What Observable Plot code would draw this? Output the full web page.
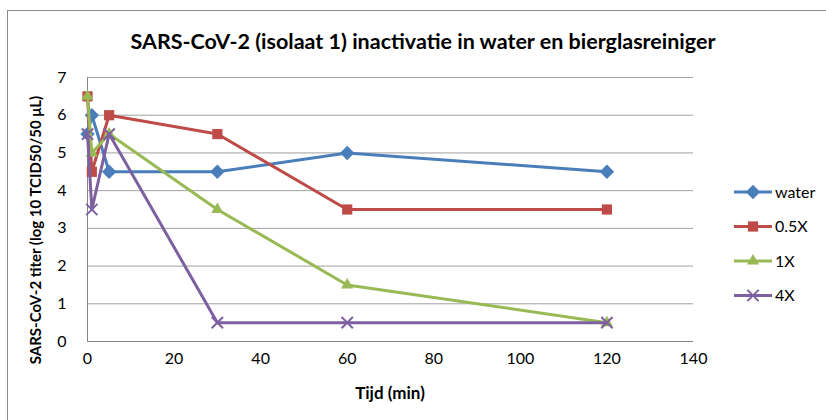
<!DOCTYPE html>
<html><head><meta charset="utf-8">
<script src="https://cdn.jsdelivr.net/npm/d3@7"></script>
<script src="https://cdn.jsdelivr.net/npm/@observablehq/plot@0.6"></script>
<style>
body{margin:0;background:#fff;font-family:Lato,"Open Sans",sans-serif;}
#wrap{position:relative;width:826px;height:420px;overflow:hidden;background:#fff;}
#frame{position:absolute;left:7px;top:10px;width:840px;height:440px;border:1px solid #8a8a8a;box-sizing:border-box;}
#chart{position:absolute;left:0;top:0;}
.t{position:absolute;font-weight:bold;color:#000;white-space:nowrap;}
#title{left:0;width:846px;top:28px;text-align:center;font-size:21.5px;}
#xtitle{left:290px;width:200px;top:382px;text-align:center;font-size:17px;}
#ytitle{left:35px;top:230px;font-size:15px;transform:translate(-50%,-50%) rotate(-90deg);}
#legend{position:absolute;left:725px;top:170px;}
</style>
</head><body>
<div id="wrap">
  <div id="frame"></div>
  <div id="chart"></div>
  <div class="t" id="title">SARS-CoV-2 (isolaat 1) inactivatie in water en bierglasreiniger</div>
  <div class="t" id="xtitle">Tijd (min)</div>
  <div class="t" id="ytitle">SARS-CoV-2 titer (log 10 TCID50/50 μL)</div>
  <div id="legend"></div>
</div>
<script>
const times = [0, 1, 5, 30, 60, 120];
const seriesNames = ["water", "0.5X", "1X", "4X"];
const water = [5.5, 6, 4.5, 4.5, 5, 4.5];
const halfX = [6.5, 4.5, 6, 5.5, 3.5, 3.5];
const oneX = [6.5, 5, 5.5, 3.5, 1.5, 0.5];
const fourX = [5.5, 3.5, 5.5, 0.5, 0.5, 0.5];
const xTicks = [0, 20, 40, 60, 80, 100, 120, 140];
const yTicks = [0, 1, 2, 3, 4, 5, 6, 7];

const seriesValues = [water, halfX, oneX, fourX];
const colors = ["#4A7EBB", "#BE4B48", "#98B954", "#7D60A0"];
const symbols = ["diamond2", "square2", "triangle2", "times"];
const d3symbols = [d3.symbolDiamond2, d3.symbolSquare2, d3.symbolTriangle2, d3.symbolTimes];
const radii = [6.5, 6.5, 5.8, 5.2];

const data = seriesNames.map((name, i) => times.map((t, j) => ({series: name, t, v: seriesValues[i][j]})));

const marks = [
  Plot.gridY(yTicks, {stroke: "#a0a0a0", strokeOpacity: 1}),
  Plot.ruleX([0], {stroke: "#868686"}),
  Plot.ruleY([0], {stroke: "#868686"}),
  Plot.axisX({ticks: xTicks, tickSize: 0, tickPadding: 11, label: null, tickFormat: "d"}),
  Plot.axisY({ticks: yTicks, tickSize: 0, tickPadding: 21, label: null, tickFormat: "d"})
];
data.forEach((d, i) => {
  marks.push(Plot.line(d, {x: "t", y: "v", stroke: colors[i], strokeWidth: 3}));
  if (symbols[i] === "times") {
    marks.push(Plot.dot(d, {x: "t", y: "v", symbol: symbols[i], r: radii[i], stroke: colors[i], strokeWidth: 2, fill: "none"}));
  } else {
    marks.push(Plot.dot(d, {x: "t", y: "v", symbol: symbols[i], r: radii[i], fill: colors[i], stroke: "none"}));
  }
});

const chart = Plot.plot({
  width: 826, height: 420,
  marginLeft: 87, marginRight: 133, marginTop: 77, marginBottom: 79,
  x: {domain: [0, 140]},
  y: {domain: [0, 7]},
  style: {fontFamily: "Lato, 'Open Sans', sans-serif", fontSize: "16px", color: "#000", background: "transparent", overflow: "visible"},
  marks
});
document.getElementById("chart").appendChild(chart);

// legend
const lg = d3.select("#legend").append("svg").attr("width", 100).attr("height", 150);
seriesNames.forEach((name, i) => {
  const y = 22 + i * 34.5;
  const g = lg.append("g").attr("transform", `translate(0,${y})`);
  g.append("line").attr("x1", 9).attr("x2", 47).attr("stroke", colors[i]).attr("stroke-width", 3);
  const p = g.append("path").attr("transform", "translate(28,0)")
    .attr("d", d3.symbol(d3symbols[i], radii[i] * radii[i] * Math.PI)());
  if (symbols[i] === "times") p.attr("fill", "none").attr("stroke", colors[i]).attr("stroke-width", 2);
  else p.attr("fill", colors[i]);
  g.append("text").attr("x", 50).attr("dy", "0.35em").attr("font-size", 16)
    .attr("font-family", "Lato, 'Open Sans', sans-serif").text(name);
});
</script>
</body></html>
